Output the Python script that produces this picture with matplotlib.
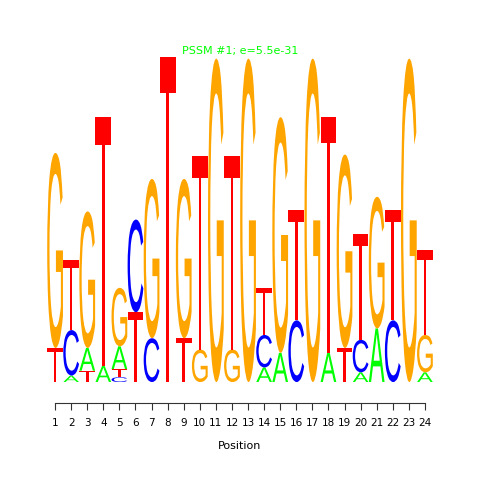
import matplotlib
matplotlib.use("Agg")
from matplotlib import pyplot as plt
from matplotlib.textpath import TextPath
from matplotlib.patches import PathPatch
from matplotlib.font_manager import FontProperties
from matplotlib.transforms import Affine2D

# stacks per position, bottom to top: (letter, height in bits)
positions = list(range(1, 25))
stacks = [
    [("T", 0.21), ("G", 1.20)],
    [("A", 0.04), ("C", 0.28), ("T", 0.43)],
    [("T", 0.07), ("A", 0.14), ("G", 0.84)],
    [("A", 0.10), ("T", 1.53)],
    [("C", 0.03), ("T", 0.05), ("A", 0.14), ("G", 0.36)],
    [("T", 0.43), ("C", 0.57)],
    [("C", 0.27), ("G", 0.98)],
    [("T", 2.00)],
    [("T", 0.27), ("G", 0.98)],
    [("G", 0.20), ("T", 1.19)],
    [("G", 1.99)],
    [("G", 0.20), ("T", 1.19)],
    [("G", 1.99)],
    [("A", 0.09), ("C", 0.20), ("T", 0.29)],
    [("A", 0.18), ("G", 1.45)],
    [("C", 0.38), ("T", 0.68)],
    [("G", 1.99)],
    [("A", 0.18), ("T", 1.45)],
    [("T", 0.21), ("G", 1.19)],
    [("A", 0.06), ("C", 0.20), ("T", 0.65)],
    [("A", 0.33), ("G", 0.81)],
    [("C", 0.38), ("T", 0.68)],
    [("G", 1.99)],
    [("A", 0.06), ("G", 0.23), ("T", 0.52)],
]
colors = {"A": "#00FF00", "C": "#0000FF", "G": "#FFA500", "T": "#FF0000"}
title = "PSSM #1; e=5.5e-31"

fp = FontProperties(family="Liberation Sans")


def draw_letter(ax, letter, x, y, w, h):
    tp = TextPath((0, 0), letter, size=1, prop=fp)
    bb = tp.get_extents()
    tr = (Affine2D().translate(-bb.x0, -bb.y0)
          .scale(w / bb.width, h / bb.height)
          .translate(x - w / 2, y))
    ax.add_patch(PathPatch(tr.transform_path(tp), facecolor=colors[letter],
                           edgecolor="none"))


fig = plt.figure(figsize=(4.8, 4.8), dpi=100)
ax = fig.add_axes([0.098, 0.204, 0.804, 0.711])

for p, stack in zip(positions, stacks):
    y = 0
    for letter, h in stack:
        draw_letter(ax, letter, p, y, 0.98, h)
        y += h

ax.set_xlim(0.5, 24.5)
ax.set_ylim(0, 2.1)
for s in ["top", "right", "left"]:
    ax.spines[s].set_visible(False)
ax.spines["bottom"].set_position(("outward", 15))
ax.spines["bottom"].set_bounds(1, 24)
ax.spines["bottom"].set_linewidth(0.8)
ax.spines["bottom"].set_color("#333333")
ax.set_yticks([])
ax.set_xticks(positions)
ax.set_xticklabels([str(p) for p in positions], fontsize=7.5)
ax.tick_params(axis="x", length=5, width=0.8, color="#333333", pad=6)
ax.set_xlabel("Position", fontsize=8, labelpad=9)
ax.text(12.5, 2.04, title, color="#00FF00", fontsize=8, ha="center", va="center")

fig.savefig("out.png", dpi=100)
